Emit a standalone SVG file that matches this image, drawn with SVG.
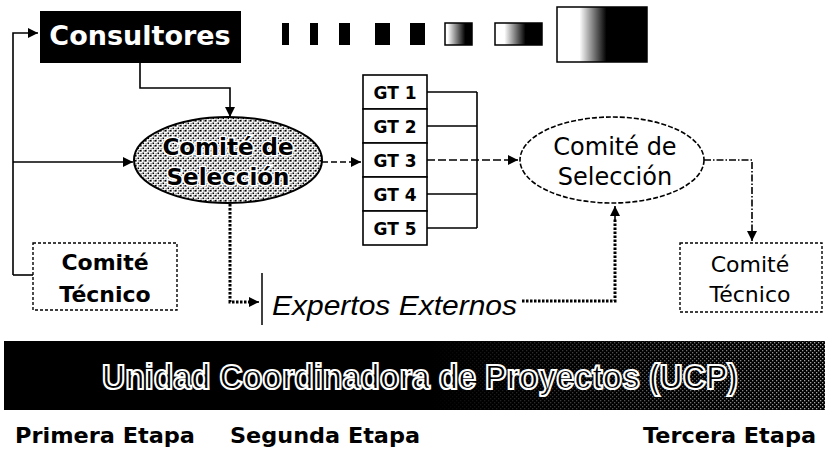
<svg xmlns="http://www.w3.org/2000/svg" width="825" height="452" viewBox="0 0 825 452">
<style>
.ln{fill:none;stroke:#000;stroke-width:1.6}
.dot{fill:none;stroke:#000;stroke-width:3;stroke-dasharray:2.5 1.5}
.b{font-family:"DejaVu Sans",Verdana,sans-serif;font-weight:bold;fill:#000}
.r{font-family:"DejaVu Sans",Verdana,sans-serif;fill:#000}
.gt{fill:#fff;stroke:#000;stroke-width:1.6}
.ct{fill:#fff;stroke:#000;stroke-width:1.4;stroke-dasharray:3 2}
</style>
<defs>
<marker id="ah" viewBox="0 0 10 10" refX="10" refY="5" markerWidth="10" markerHeight="10" markerUnits="userSpaceOnUse" orient="auto">
<path d="M0,0 L10,5 L0,10 Z" fill="#000"/>
</marker>
<pattern id="stip" width="5" height="5" patternUnits="userSpaceOnUse">
<rect width="5" height="5" fill="#fff"/>
<rect x="0" y="0" width="1.6" height="1.6" fill="#000"/>
<rect x="2.5" y="2.5" width="1.6" height="1.6" fill="#000"/>
<rect x="3.5" y="0.3" width="1.2" height="1.2" fill="#000"/>
<rect x="0.6" y="3.4" width="1" height="1" fill="#000"/>
</pattern>
<pattern id="wdots" width="4" height="4" patternUnits="userSpaceOnUse">
<rect x="0" y="0" width="1.3" height="1.3" fill="#fff"/>
<rect x="2" y="2" width="1.3" height="1.3" fill="#fff"/>
</pattern>
<linearGradient id="fade" x1="430" y1="0" x2="825" y2="0" gradientUnits="userSpaceOnUse">
<stop offset="0" stop-color="#000"/>
<stop offset="1" stop-color="#aaa"/>
</linearGradient>
<mask id="barmask">
<rect x="0" y="341" width="825" height="69" fill="url(#fade)"/>
</mask>
<linearGradient id="g6" x1="0" x2="1" y1="0" y2="0">
<stop offset="0.1" stop-color="#fff"/><stop offset="0.75" stop-color="#000"/>
</linearGradient>
<linearGradient id="g7" x1="0" x2="1" y1="0" y2="0">
<stop offset="0.2" stop-color="#fff"/><stop offset="0.65" stop-color="#000"/>
</linearGradient>
<linearGradient id="gbig" x1="0" x2="1" y1="0" y2="0">
<stop offset="0.25" stop-color="#fff"/><stop offset="0.55" stop-color="#000"/>
</linearGradient>
</defs>

<g id="deco">
<rect x="282" y="23" width="7" height="22" fill="#000"/>
<rect x="310" y="23" width="8" height="22" fill="#000"/>
<rect x="339" y="23" width="11" height="22" fill="#000"/>
<rect x="375" y="23" width="15" height="22" fill="#000"/>
<rect x="410" y="23" width="15" height="22" fill="#000"/>
<rect x="445" y="23" width="27" height="22" fill="url(#g6)" stroke="#000" stroke-width="1.5"/>
<rect x="495" y="23" width="47" height="22" fill="url(#g7)" stroke="#000" stroke-width="1.5"/>
<rect x="557" y="7" width="90" height="55" fill="url(#gbig)" stroke="#000" stroke-width="1.5"/>
</g>

<g id="connectors">
<path class="ln" d="M13,275 L13,33 L38,33" marker-end="url(#ah)"/>
<path class="ln" d="M13,162 L133,162" marker-end="url(#ah)"/>
<path class="ln" d="M13,275 L33,275"/>
<path class="ln" stroke-width="2.2" d="M140,63 L140,88 L230,88 L230,117" marker-end="url(#ah)"/>
<path class="ln" stroke-dasharray="6 3" d="M322,162 L361,162" marker-end="url(#ah)"/>
<path class="ln" d="M427,92 L477,92 M427,126 L477,126 M427,194 L477,194 M427,228 L477,228 M477,92 L477,228"/>
<path class="ln" stroke-dasharray="8 3" d="M427,160 L518,160" marker-end="url(#ah)"/>
<path class="ln" stroke-width="1.4" stroke-dasharray="7 2 1.5 2" d="M704,160 L752,160 L752,241" marker-end="url(#ah)"/>
<path class="dot" d="M230,204 L230,302 L250,302"/>
<path class="ln" d="M248,302 L259,302" marker-end="url(#ah)"/>
<path class="dot" d="M522,301 L615,301 L615,218"/>
<path class="ln" d="M615,220 L615,206" marker-end="url(#ah)"/>
<line x1="262" y1="273" x2="262" y2="325" stroke="#000" stroke-width="1.5"/>
</g>

<g id="consultores">
<rect x="40" y="11" width="201" height="52" fill="#000"/>
<text class="b" x="140" y="45" font-size="27" text-anchor="middle" style="fill:#fff">Consultores</text>
</g>

<g id="comite-seleccion-1">
<ellipse cx="228" cy="160" rx="94" ry="43" fill="url(#stip)" stroke="#000" stroke-width="2"/>
<text class="b" x="228" y="155" font-size="23" text-anchor="middle" stroke="#fff" stroke-width="3" paint-order="stroke">Comité de</text>
<text class="b" x="228" y="185" font-size="23" text-anchor="middle" stroke="#fff" stroke-width="3" paint-order="stroke">Selección</text>
</g>

<g id="gt">
<rect class="gt" x="363" y="75" width="64" height="34"/>
<rect class="gt" x="363" y="109" width="64" height="34"/>
<rect class="gt" x="363" y="143" width="64" height="34"/>
<rect class="gt" x="363" y="177" width="64" height="34"/>
<rect class="gt" x="363" y="211" width="64" height="34"/>
<text class="b" x="395" y="99" font-size="17" text-anchor="middle">GT 1</text>
<text class="b" x="395" y="133" font-size="17" text-anchor="middle">GT 2</text>
<text class="b" x="395" y="167" font-size="17" text-anchor="middle">GT 3</text>
<text class="b" x="395" y="201" font-size="17" text-anchor="middle">GT 4</text>
<text class="b" x="395" y="235" font-size="17" text-anchor="middle">GT 5</text>
</g>

<g id="comite-seleccion-2">
<ellipse cx="612" cy="160" rx="92" ry="43" fill="#fff" stroke="#000" stroke-width="1.6" stroke-dasharray="5 2"/>
<text class="r" x="615" y="155" font-size="24" text-anchor="middle">Comité de</text>
<text class="r" x="615" y="185" font-size="24" text-anchor="middle">Selección</text>
</g>

<g id="comite-tecnico-1">
<rect class="ct" x="33" y="243" width="144" height="67"/>
<text class="b" x="105" y="270" font-size="22" text-anchor="middle">Comité</text>
<text class="b" x="105" y="302" font-size="22" text-anchor="middle">Técnico</text>
</g>

<g id="comite-tecnico-2">
<rect class="ct" x="680" y="243" width="142" height="69"/>
<text class="r" x="750" y="272" font-size="22" text-anchor="middle">Comité</text>
<text class="r" x="750" y="302" font-size="22" text-anchor="middle">Técnico</text>
</g>

<g id="expertos">
<text x="272" y="315" font-family="Liberation Sans, Arial, sans-serif" font-style="italic" font-size="28" textLength="245" lengthAdjust="spacingAndGlyphs">Expertos Externos</text>
</g>

<g id="ucp">
<rect x="4" y="341" width="821" height="69" fill="#000"/>
<rect x="4" y="341" width="821" height="69" fill="url(#wdots)" mask="url(#barmask)"/>
<text x="102" y="389" font-family="Liberation Sans, Arial, sans-serif" font-weight="bold" font-size="35" fill="#000" stroke="#fff" stroke-width="2.2" textLength="636" lengthAdjust="spacingAndGlyphs">Unidad Coordinadora de Proyectos (UCP)</text>
</g>

<g id="etapas">
<text class="b" x="15" y="443" font-size="21" textLength="180" lengthAdjust="spacingAndGlyphs">Primera Etapa</text>
<text class="b" x="230" y="443" font-size="21" textLength="190" lengthAdjust="spacingAndGlyphs">Segunda Etapa</text>
<text class="b" x="643" y="443" font-size="21" textLength="173" lengthAdjust="spacingAndGlyphs">Tercera Etapa</text>
</g>
</svg>
